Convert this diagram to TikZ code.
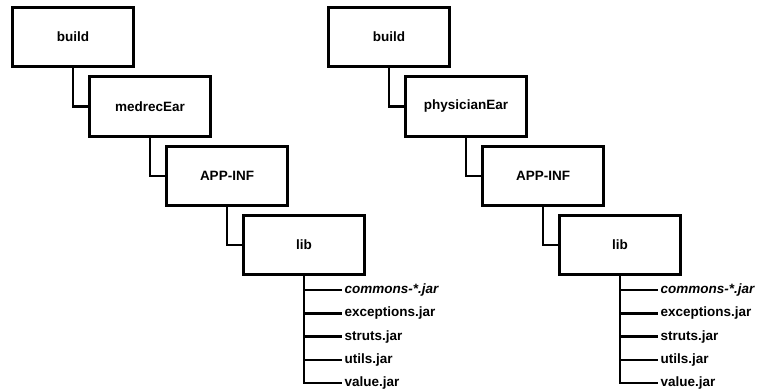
\documentclass[tikz,border=0pt]{standalone}
\usepackage{fontspec}
\setmainfont{Liberation Sans}
\usetikzlibrary{positioning}
\tikzset{
  folder/.style={draw,line width=3pt,minimum width=121pt,minimum height=59.5pt,
    font=\fontsize{13.5}{15}\selectfont\bfseries},
  jarfile/.style={anchor=west,inner sep=2.5pt,font=\fontsize{13.5}{15}\selectfont\bfseries},
  link/.style={line width=2.7pt}
}
\begin{document}
\begin{tikzpicture}[x=1pt,y=-1pt]
    \useasboundingbox (0,0) rectangle (760,391);
    \foreach \dx/\ear/\t in {0/medrecEar/l,316/physicianEar/r} {
        \begin{scope}[xshift=\dx]
        \node[folder] (build\t) at (73,37) {build};
        \node[folder] (ear\t) at (150,106.5) {\ear};
        \node[folder] (app\t) at (227,176) {APP-INF};
        \node[folder] (lib\t) at (304,245) {lib};
        \node[jarfile] (f1\t) at (342,290) {\itshape commons-*.jar};
        \node[jarfile] (f2\t) at (342,313.3) {exceptions.jar};
        \node[jarfile] (f3\t) at (342,336.6) {struts.jar};
        \node[jarfile] (f4\t) at (342,359.9) {utils.jar};
        \node[jarfile] (f5\t) at (342,383) {value.jar};
        \draw[link] (build\t.south) |- (ear\t.west);
        \draw[link] (ear\t.south) |- (app\t.west);
        \draw[link] (app\t.south) |- (lib\t.west);
        \draw[link] (lib\t.south) |- (f5\t.west);
        \foreach \f in {1,2,3,4}
            \draw[link] (lib\t.south |- f\f\t.west) -- (f\f\t.west);
        \end{scope}
    }
\end{tikzpicture}
\end{document}
